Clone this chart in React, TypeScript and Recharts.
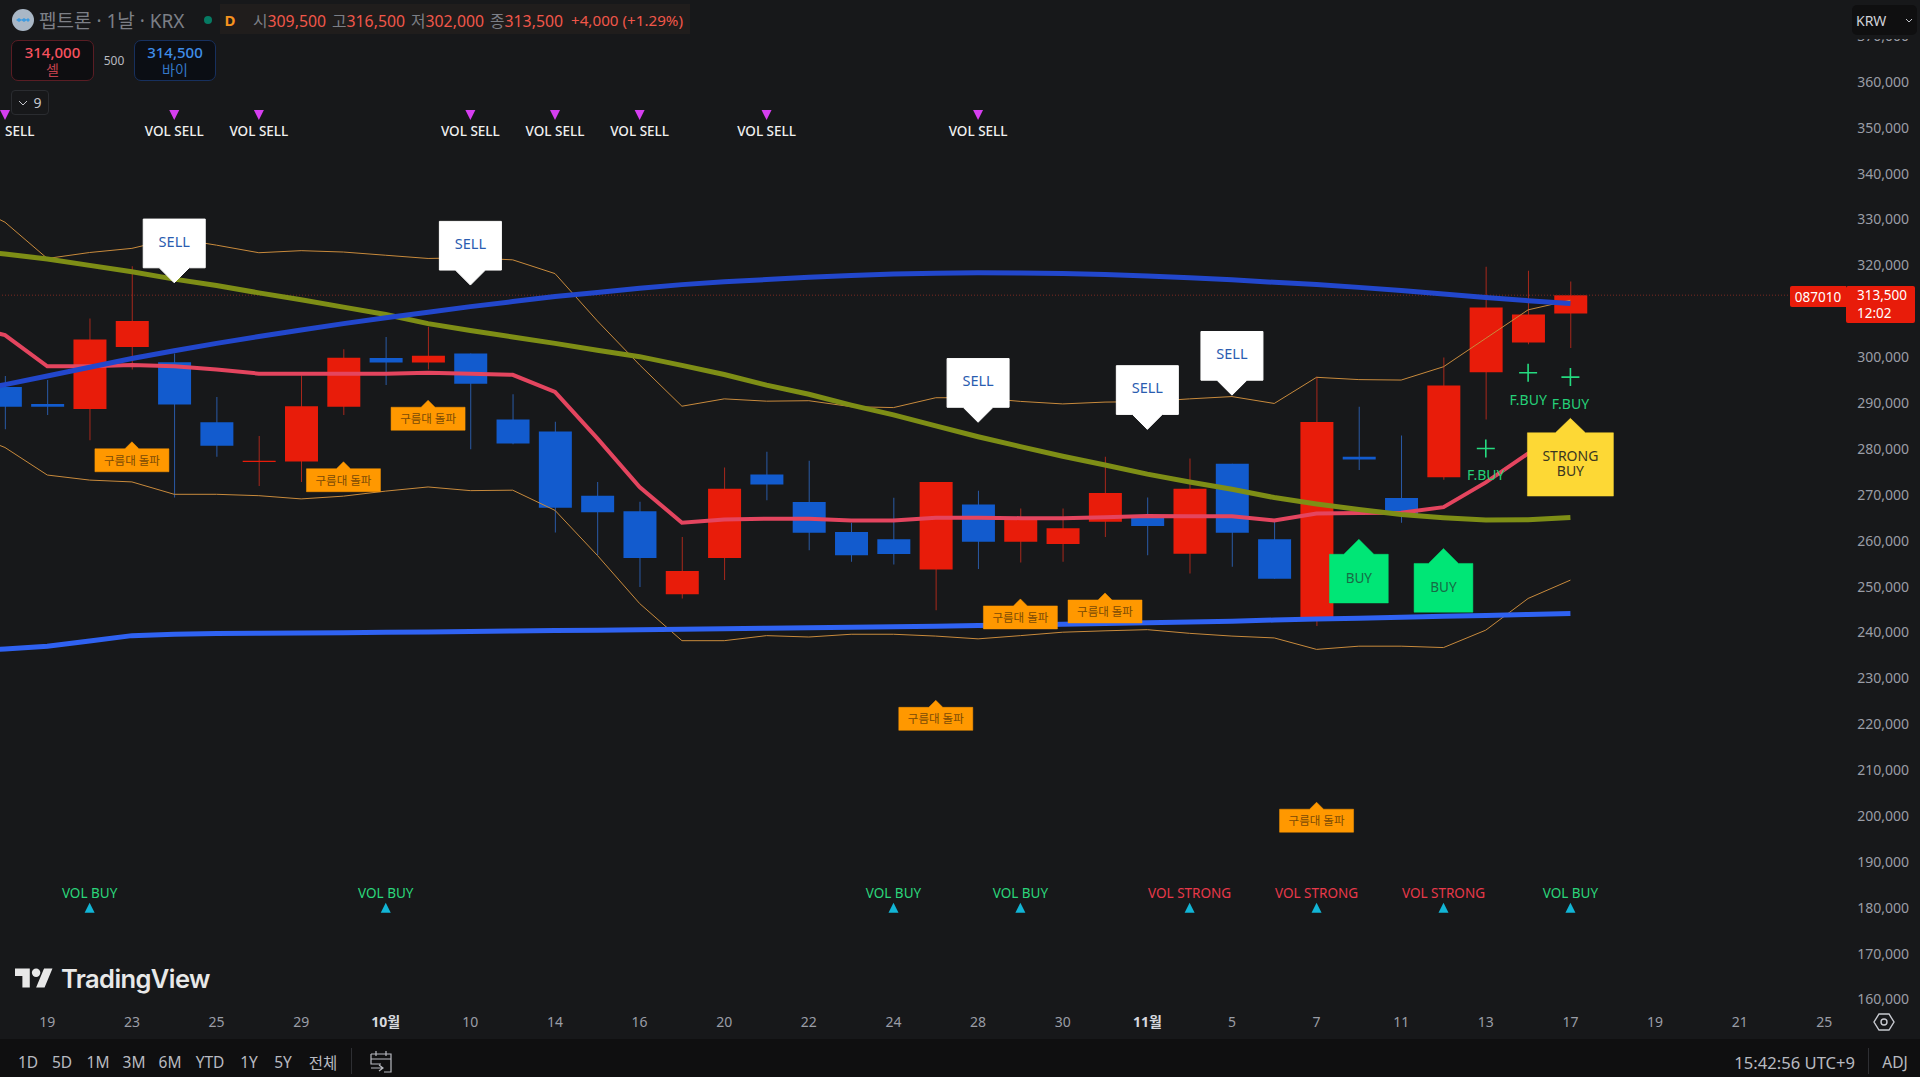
import { Bar, Cell, ComposedChart, Line, ReferenceLine, Scatter, XAxis, YAxis } from "recharts";

const FONT = '"Noto Sans", "Noto Sans CJK KR", sans-serif';
const RED = "#E81C0A";
const BLUE = "#125BCE";

// values, in thousands of won
const opens = [293.5, 289.8, 288.7, 302.2, 298.9, 285.8, 277.15, 277.25, 289.2, 299.8, 298.8, 300.8, 286.4, 283.8, 269.8, 266.4, 248.3, 256.2, 274.4, 268.4, 261.9, 260.3, 253.7, 267.9, 259.75, 259.25, 264.1, 265.4, 257.15, 276.75, 260.3, 242.8, 278.3, 269.3, 273.8, 296.7, 303.2, 309.5];
const closes = [289.2, 289.2, 303.85, 307.85, 289.7, 280.7, 277.4, 289.3, 299.85, 298.8, 300.3, 294.2, 281.2, 267.15, 266.2, 256.2, 253.4, 271.3, 272.25, 261.7, 256.8, 257.1, 272.8, 259.75, 265, 262.7, 270.4, 263.2, 271.3, 261.7, 251.7, 285.84, 277.7, 265.7, 293.8, 310.8, 309.3, 313.5];
const highs = [295.9, 295, 308.4, 319.8, 300.8, 291.3, 282.8, 296, 301.7, 304.4, 306.6, 300.8, 291.9, 285.9, 272.8, 268.5, 260.8, 275.96, 279.4, 277.4, 263.9, 269.35, 272.8, 270.9, 267, 267, 278.3, 269.4, 277.9, 276.75, 264.1, 295.7, 289.2, 282.9, 299.9, 319.7, 318.8, 316.5];
const lows = [284.3, 287.4, 281.9, 297.3, 269.4, 278.3, 271.9, 272.8, 287.4, 293.9, 297.3, 279.9, 281, 261.8, 256.8, 249.9, 247.4, 251.4, 268.8, 257.9, 255.4, 254.8, 244.85, 253.8, 255.25, 255.4, 260.8, 256.8, 252.85, 254.3, 251.7, 241.4, 275.4, 263.9, 273.3, 286.4, 302.8, 302];

// the indicator lines carry on to the left of the first whole candle, so each list starts one bar earlier
const upperBand = [334, 329.4, 321.5, 322.8, 323.7, 325.9, 324.4, 322.75, 323.2, 322.9, 322.2, 321.5, 321.65, 321.2, 318.2, 307.9, 298.3, 289.3, 290.9, 290.4, 290.5, 289.2, 289, 291.15, 291.15, 290.35, 289.8, 290.2, 290.3, 290.9, 291.4, 289.9, 295.6, 295.1, 295, 297.9, 304.1, 310.3, 312.4];
const lowerBand = [284, 280.3, 274.3, 273.2, 272.8, 270.1, 270.1, 269.8, 269.1, 269.7, 270.8, 271.7, 270.9, 271, 266.6, 256.8, 246.3, 238.2, 238.2, 239.3, 239, 239.6, 239.6, 239.2, 238.6, 239.3, 240.05, 240.35, 240.6, 239.8, 239.2, 238.8, 236.3, 237, 237, 236.7, 240.5, 247.4, 251.4];
const midLine = [307, 304.8, 298, 298, 298.3, 298, 297.3, 296.4, 296.4, 296.4, 296.4, 296.6, 296.4, 296.15, 292.4, 282.3, 271.7, 263.9, 264.6, 264.8, 264.8, 264.4, 264.4, 265, 265, 264.9, 264.9, 265.1, 265.35, 265.3, 265.3, 264.4, 265.9, 266, 266.1, 267.3, 272.7, 279, 281.9];
const oliveLine = [323.4, 322.45, 321.4, 320, 318.6, 317, 315.6, 314, 312.5, 310.9, 309.3, 307.3, 305.8, 304.4, 303, 301.5, 300.1, 298.2, 296.2, 293.9, 291.9, 289.55, 287.4, 285, 282.65, 280.5, 278.4, 276.5, 274.5, 272.8, 271.2, 269.4, 268, 266.8, 265.7, 265, 264.5, 264.55, 265.05];
const topCurve = [292.2, 294, 295.9, 297.8, 299.7, 301.4, 303, 304.5, 305.9, 307.3, 308.6, 309.8, 311, 312.1, 313.2, 314.1, 315, 315.8, 316.4, 316.9, 317.4, 317.8, 318.1, 318.3, 318.4, 318.35, 318.2, 318, 317.7, 317.3, 316.85, 316.3, 315.85, 315.2, 314.5, 313.75, 313, 312.3, 311.7];
const bottomCurve = [236, 236.4, 237, 238.15, 239.3, 239.6, 239.75, 239.8, 239.9, 239.95, 240.05, 240.1, 240.2, 240.3, 240.4, 240.5, 240.6, 240.7, 240.8, 240.9, 241, 241.1, 241.25, 241.35, 241.5, 241.6, 241.8, 241.95, 242.1, 242.25, 242.45, 242.7, 242.9, 243.1, 243.3, 243.5, 243.7, 243.9, 244.1];

const priceTicks = [160, 170, 180, 190, 200, 210, 220, 230, 240, 250, 260, 270, 280, 290, 300, 310, 320, 330, 340, 350, 360, 370];
const timeSlots = [1, 3, 5, 7, 9, 11, 13, 15, 17, 19, 21, 23, 25, 27, 29, 31, 33, 35, 37, 39, 41, 43];
const timeLabels = ["19", "23", "25", "29", "10월", "10", "14", "16", "20", "22", "24", "28", "30", "11월", "5", "7", "11", "13", "17", "19", "21", "25"];

// signal anchors: bar index and the price the marker tip points at
const volSellBars = [0, 4, 6, 11, 13, 15, 18, 23];
const volSellTexts = ["SELL", "VOL SELL", "VOL SELL", "VOL SELL", "VOL SELL", "VOL SELL", "VOL SELL", "VOL SELL"];
const volBuyBars = [2, 9, 21, 24, 28, 31, 34, 37];
const volBuyTexts = ["VOL BUY", "VOL BUY", "VOL BUY", "VOL BUY", "VOL STRONG", "VOL STRONG", "VOL STRONG", "VOL BUY"];
const sellBars = [4, 11, 23, 27, 29];
const sellPrices = [316.2, 315.7, 285.8, 284.25, 291.7];
const cloudBars = [3, 8, 10, 22, 24, 26, 31];
const cloudPrices = [281.55, 277.2, 290.6, 225.2, 247.3, 248.6, 203];
const fbuyBars = [35, 36, 37];
const fbuyPrices = [280.1, 296.6, 295.65];
const buyBars = [32, 34];
const buyPrices = [260.3, 258.3];
const strongBars = [37];
const strongPrices = [286.65];

const k = (v: number) => v * 1000;

const rows = opens.map((o, i) => ({
  i,
  wick: [k(lows[i]), k(highs[i])],
  body: [k(Math.min(o, closes[i])), k(Math.max(o, closes[i]))],
  up: closes[i] >= o,
}));

const lineRows = upperBand.map((v, n) => ({
  i: n - 1,
  upper: k(v),
  lower: k(lowerBand[n]),
  mid: k(midLine[n]),
  olive: k(oliveLine[n]),
  top: k(topCurve[n]),
  bottom: k(bottomCurve[n]),
}));

const marks = (bars: number[], prices: number[]) => bars.map((i, n) => ({ i, v: k(prices[n]) }));
const topRow = volSellBars.map((i, n) => ({ i, v: 352760, text: volSellTexts[n] }));
const bottomRow = volBuyBars.map((i, n) => ({ i, v: 180000, text: volBuyTexts[n] }));

function TimeTick({ x, payload }: any) {
  const label = timeLabels[timeSlots.indexOf(payload.value)];
  const month = label.endsWith("월");
  return (
    <text x={x} y={1022} dy={5} textAnchor="middle" fontSize={14} fontWeight={month ? 700 : 400} fill={month ? "#D6D8DE" : "#9A9DA6"} fontFamily={FONT}>
      {label}
    </text>
  );
}

function PriceTick({ y, payload }: any) {
  return (
    <text x={1909} y={y} dy={5} textAnchor="end" fontSize={14} fill="#9A9DA6" fontFamily={FONT}>
      {payload.value.toLocaleString("en-US")}
    </text>
  );
}

function VolSell({ cx, cy, payload }: any) {
  const first = payload.i === 0;
  return (
    <g>
      <path d={`M${cx - 5} ${cy - 5}h10l-5 10z`} fill="#D63EF0" />
      <text x={first ? 5 : cx} y={cy + 21} textAnchor={first ? "start" : "middle"} fontSize={13.5} fontWeight={500} fill="#F0F0F0" fontFamily={FONT}>
        {payload.text}
      </text>
    </g>
  );
}

function VolBuy({ cx, cy, payload }: any) {
  const strong = payload.text === "VOL STRONG";
  return (
    <g>
      <path d={`M${cx} ${cy - 5}l5 10h-10z`} fill="#12B5D6" />
      <text x={cx} y={cy - 10} textAnchor="middle" fontSize={13.5} fill={strong ? "#E8394A" : "#2BD67B"} fontFamily={FONT}>
        {payload.text}
      </text>
    </g>
  );
}

function SellFlag({ cx, cy }: any) {
  const w = 31;
  const base = cy - 15;
  return (
    <g>
      <path d={`M${cx} ${cy}l-15 -15h${-w + 15}v-48.7h${w * 2}v48.7h${-w + 15}z`} fill="#FFFFFF" stroke="#FFFFFF" strokeWidth={1} strokeLinejoin="round" />
      <text x={cx} y={base - 21} textAnchor="middle" fontSize={14.5} fill="#2A5CB0" fontFamily={FONT}>
        SELL
      </text>
    </g>
  );
}

function CloudFlag({ cx, cy }: any) {
  return (
    <g>
      <path d={`M${cx} ${cy}l7 7h30v23h-74v-23h30z`} fill="#FF9800" stroke="#FF9800" strokeWidth={0.5} strokeLinejoin="round" />
      <text x={cx} y={cy + 23} textAnchor="middle" fontSize={11.5} fill="#7A4A06" fontFamily={FONT}>
        구름대 돌파
      </text>
    </g>
  );
}

function FastBuy({ cx, cy }: any) {
  return (
    <g>
      <path d={`M${cx - 9} ${cy}h18M${cx} ${cy - 9}v18`} stroke="#25DB80" strokeWidth={1.6} fill="none" />
      <text x={cx} y={cy + 32} textAnchor="middle" fontSize={14} fill="#25D078" fontFamily={FONT}>
        F.BUY
      </text>
    </g>
  );
}

function BuyFlag({ cx, cy }: any) {
  return (
    <g>
      <path d={`M${cx} ${cy}l15 15h14.4v48.7h-58.8v-48.7h14.4z`} fill="#00E676" stroke="#00E676" strokeWidth={0.5} strokeLinejoin="round" />
      <text x={cx} y={cy + 44} textAnchor="middle" fontSize={13.5} fill="#176B45" fontFamily={FONT}>
        BUY
      </text>
    </g>
  );
}

function StrongFlag({ cx, cy }: any) {
  return (
    <g>
      <path d={`M${cx} ${cy}l15 14.4h28v63.3h-86v-63.3h28z`} fill="#FDD835" stroke="#FDD835" strokeWidth={0.5} strokeLinejoin="round" />
      <text textAnchor="middle" fontSize={14} fill="#3A3620" fontFamily={FONT}>
        <tspan x={cx} y={cy + 43}>STRONG</tspan>
        <tspan x={cx} y={cy + 58}>BUY</tspan>
      </text>
    </g>
  );
}

function at(left: number, top: number, width: number, height: number, extra: React.CSSProperties = {}): React.CSSProperties {
  return {
    position: "absolute",
    left,
    top,
    width,
    height,
    display: "flex",
    alignItems: "center",
    justifyContent: "center",
    whiteSpace: "nowrap",
    ...extra,
  };
}

const rangeButtons = ["1D", "5D", "1M", "3M", "6M", "YTD", "1Y", "5Y", "전체"];
const rangeCenters = [28, 62, 98, 134, 170, 210, 249, 283, 323];
const ohlcNames = ["시", "고", "저", "종"];
const ohlcValues = ["309,500", "316,500", "302,000", "313,500"];

function Header() {
  return (
    <>
      <div style={at(220, 4, 470, 30, { background: "#201D1C" })} />
      <svg style={{ position: "absolute", left: 12, top: 9 }} width={22} height={22}>
        <circle cx={11} cy={11} r={11} fill="#A9B7C6" />
        <path d="M4 11l3-2 3 2-3 2zM9 11l3-2 3 2-3 2zM14 11l2-2 2 2-2 2z" fill="#3E9BE0" />
      </svg>
      <div style={at(39, 5, 146, 30, { color: "#7C7F86", fontSize: 19, justifyContent: "flex-start" })}>펩트론 · 1날 · KRX</div>
      <div style={at(204, 16, 8, 8, { background: "#067A63", borderRadius: 4 })} />
      <div style={at(222, 5, 16, 30, { color: "#F7931E", fontSize: 15, fontWeight: 700 })}>D</div>
      <div style={at(253, 5, 440, 30, { justifyContent: "flex-start", fontSize: 15.8, color: "#F0574A" })}>
        {ohlcNames.map((name, n) => (
          <span key={name} style={{ marginRight: 6 }}>
            <span style={{ color: "#7C7F86" }}>{name}</span>
            {ohlcValues[n]}
          </span>
        ))}
        <span style={{ marginLeft: 2, fontSize: 15.2 }}>+4,000 (+1.29%)</span>
      </div>
      <div style={at(11, 40, 83, 41, { flexDirection: "column", background: "#0E0E11", border: "1px solid #5A1D24", borderRadius: 7, boxSizing: "border-box", color: "#F7525F", fontSize: 15, lineHeight: "17px" })}>
        <span style={{ fontWeight: 500 }}>314,000</span>
        <span style={{ fontSize: 14, color: "#C2414D" }}>셀</span>
      </div>
      <div style={at(98, 50, 32, 20, { color: "#B8BAC0", fontSize: 12 })}>500</div>
      <div style={at(134, 40, 82, 41, { flexDirection: "column", background: "#0B0E14", border: "1px solid #17305E", borderRadius: 7, boxSizing: "border-box", color: "#3F8DE8", fontSize: 15, lineHeight: "17px" })}>
        <span style={{ fontWeight: 500 }}>314,500</span>
        <span style={{ fontSize: 14, color: "#3578C8" }}>바이</span>
      </div>
      <div style={at(11, 90, 38, 25, { background: "#17181A", border: "1px solid #2A2C30", borderRadius: 4, boxSizing: "border-box", color: "#C4C6CC", fontSize: 14, gap: 5 })}>
        <svg width={10} height={6}>
          <path d="M1 1l4 4 4-4" stroke="#C4C6CC" fill="none" />
        </svg>
        9
      </div>
      <div style={at(1846, 0, 74, 38.5, { background: "#17181A" })} />
      <div style={at(1852, 5, 65, 30, { background: "#0F0F10", borderRadius: 5, color: "#D0D2D8", fontSize: 14, justifyContent: "space-between", padding: "0 4px", boxSizing: "border-box" })}>
        KRW
        <svg width={8} height={5}>
          <path d="M1 1l3 3 3-3" stroke="#C4C6CC" fill="none" />
        </svg>
      </div>
    </>
  );
}

function Footer() {
  return (
    <>
      <svg style={{ position: "absolute", left: 15, top: 966 }} width={38} height={24} viewBox="0 4 36 18">
        <path d="M14 22H7V11H0V4h14v18zM28 22h-8l7.5-18h8L28 22z" fill="#E8E8E8" />
        <circle cx={20} cy={8} r={4} fill="#E8E8E8" />
      </svg>
      <div style={at(61, 962, 152, 32, { color: "#E8E8E8", fontSize: 25.5, fontWeight: 600, fontFamily: "Inter, sans-serif", letterSpacing: -0.6, justifyContent: "flex-start" })}>TradingView</div>
      <svg style={{ position: "absolute", left: 1873, top: 1011 }} width={22} height={22}>
        <path d="M6 3h10l5 8-5 8H6l-5-8z" fill="none" stroke="#C8CAD0" strokeWidth={1.4} />
        <circle cx={11} cy={11} r={3} fill="none" stroke="#C8CAD0" strokeWidth={1.4} />
      </svg>
      <div style={at(0, 1039, 1920, 38, { background: "#0F0F10" })} />
      {rangeButtons.map((label, n) => (
        <div key={label} style={at(rangeCenters[n] - 20, 1050, 40, 24, { color: "#B8BAC0", fontSize: 15.5 })}>
          {label}
        </div>
      ))}
      <div style={at(351, 1048, 1, 26, { background: "#2E2F33" })} />
      <svg style={{ position: "absolute", left: 369, top: 1050 }} width={24} height={24}>
        <path d="M2 4h20v13M2 4v10h10M2 9h20M7 1v5M17 1v5M15 22h7v-5M2 18h12M10 15l4 3-4 3" fill="none" stroke="#B8BAC0" strokeWidth={1.2} />
      </svg>
      <div style={at(1725, 1050, 130, 24, { color: "#B8BAC0", fontSize: 16.6, justifyContent: "flex-end" })}>15:42:56 UTC+9</div>
      <div style={at(1868, 1048, 1, 26, { background: "#2E2F33" })} />
      <div style={at(1875, 1050, 40, 24, { color: "#B8BAC0", fontSize: 15.5 })}>ADJ</div>
    </>
  );
}

export default function App() {
  return (
    <div style={{ position: "fixed", left: 0, top: 0, width: 1920, height: 1077, background: "#17181A", overflow: "hidden", fontFamily: FONT }}>
      <ComposedChart width={1920} height={1039} data={rows} margin={{ top: 0, right: 0, bottom: 0, left: 0 }}>
        <XAxis xAxisId="main" dataKey="i" type="number" domain={[-0.118, 43.49]} allowDataOverflow ticks={timeSlots} interval={0} height={34} axisLine={false} tickLine={false} tick={<TimeTick />} />
        <XAxis xAxisId="body" dataKey="i" type="number" domain={[-0.118, 43.49]} allowDataOverflow hide />
        <YAxis yAxisId="p" orientation="right" width={75} type="number" domain={[158800, 377830]} allowDataOverflow ticks={priceTicks.map(k)} interval={0} axisLine={false} tickLine={false} tick={<PriceTick />} />

        <ReferenceLine xAxisId="main" yAxisId="p" y={313500} stroke="#7A2A22" strokeDasharray="1 2" />

        <Line xAxisId="main" yAxisId="p" data={lineRows} dataKey="upper" stroke="#C88A3C" strokeWidth={1} dot={false} activeDot={false} isAnimationActive={false} />
        <Line xAxisId="main" yAxisId="p" data={lineRows} dataKey="lower" stroke="#C88A3C" strokeWidth={1} dot={false} activeDot={false} isAnimationActive={false} />
        <Line xAxisId="main" yAxisId="p" data={lineRows} dataKey="mid" stroke="#E4455F" strokeWidth={4} dot={false} activeDot={false} isAnimationActive={false} />
        <Line xAxisId="main" yAxisId="p" data={lineRows} dataKey="bottom" stroke="#2F62F2" strokeWidth={5} dot={false} activeDot={false} isAnimationActive={false} />
        <Line xAxisId="main" yAxisId="p" data={lineRows} dataKey="olive" stroke="#7E8E16" strokeWidth={5} dot={false} activeDot={false} isAnimationActive={false} />
        <Line xAxisId="main" yAxisId="p" data={lineRows} dataKey="top" stroke="#2247CC" strokeWidth={5} dot={false} activeDot={false} isAnimationActive={false} />

        <Bar xAxisId="main" yAxisId="p" dataKey="wick" barSize={1} isAnimationActive={false}>
          {rows.map((r) => (
            <Cell key={r.i} fill={r.up ? "#A8281C" : "#2A5AA6"} />
          ))}
        </Bar>
        <Bar xAxisId="body" yAxisId="p" dataKey="body" barSize={33} isAnimationActive={false}>
          {rows.map((r) => (
            <Cell key={r.i} fill={r.up ? RED : BLUE} />
          ))}
        </Bar>

        <Scatter xAxisId="main" yAxisId="p" data={topRow} dataKey="v" shape={<VolSell />} isAnimationActive={false} />
        <Scatter xAxisId="main" yAxisId="p" data={bottomRow} dataKey="v" shape={<VolBuy />} isAnimationActive={false} />
        <Scatter xAxisId="main" yAxisId="p" data={marks(fbuyBars, fbuyPrices)} dataKey="v" shape={<FastBuy />} isAnimationActive={false} />
        <Scatter xAxisId="main" yAxisId="p" data={marks(cloudBars, cloudPrices)} dataKey="v" shape={<CloudFlag />} isAnimationActive={false} />
        <Scatter xAxisId="main" yAxisId="p" data={marks(buyBars, buyPrices)} dataKey="v" shape={<BuyFlag />} isAnimationActive={false} />
        <Scatter xAxisId="main" yAxisId="p" data={marks(strongBars, strongPrices)} dataKey="v" shape={<StrongFlag />} isAnimationActive={false} />
        <Scatter xAxisId="main" yAxisId="p" data={marks(sellBars, sellPrices)} dataKey="v" shape={<SellFlag />} isAnimationActive={false} />
      </ComposedChart>

      <Header />
      <Footer />

      <div style={at(1790, 286, 56, 21, { background: RED, borderRadius: "2px 0 0 2px", color: "#FFFFFF", fontSize: 13.5 })}>087010</div>
      <div style={{ position: "absolute", left: 1846, top: 286, width: 69, height: 37, paddingLeft: 11, boxSizing: "border-box", background: RED, borderRadius: 2, color: "#FFFFFF", fontSize: 13.5, lineHeight: "18.4px", whiteSpace: "pre" }}>
        {"313,500\n12:02"}
      </div>
    </div>
  );
}
